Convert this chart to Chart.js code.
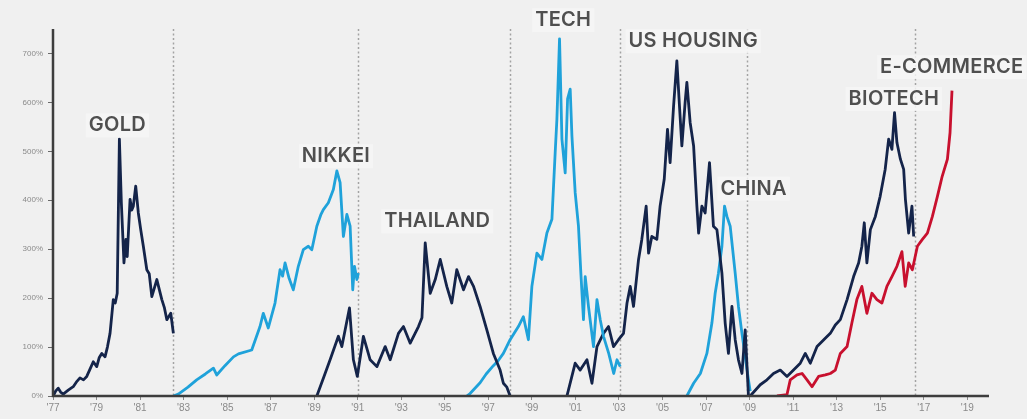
<!DOCTYPE html>
<html>
<head>
<meta charset="utf-8">
<script src="https://cdn.jsdelivr.net/npm/chart.js@4/dist/chart.umd.min.js"></script>
<style>
  html, body { margin: 0; padding: 0; background: #f0f0f0; }
  #wrap { width: 1027px; height: 419px; }
</style>
</head>
<body>
<div id="wrap"><canvas id="bubbles" width="1027" height="419"></canvas></div>
<script>
// Bubble peaks: % gain from trough, [year, percent]
const gold = [
  [1977.01, 0], [1977.12, 10], [1977.24, 16], [1977.35, 8], [1977.47, 4], [1977.7, 12],
  [1977.93, 19], [1978.1, 30], [1978.24, 37], [1978.4, 33], [1978.55, 40], [1978.7, 55],
  [1978.85, 70], [1979.01, 60], [1979.12, 78], [1979.24, 87], [1979.39, 80], [1979.5, 100],
  [1979.62, 128], [1979.77, 197], [1979.86, 190], [1979.95, 210], [1980.05, 525], [1980.14, 395],
  [1980.26, 272], [1980.35, 320], [1980.41, 285], [1980.54, 402], [1980.62, 380], [1980.69, 388],
  [1980.80, 429], [1980.92, 374], [1981.03, 340], [1981.15, 306], [1981.31, 258], [1981.42, 250],
  [1981.54, 203], [1981.77, 238], [1982.0, 197], [1982.12, 180], [1982.23, 156], [1982.41, 169],
  [1982.53, 128]
]
const nikkei = [
  [1982.53, 0], [1982.76, 4], [1983.2, 18], [1983.60, 33], [1984.0, 45], [1984.37, 57],
  [1984.52, 43], [1984.9, 62], [1985.29, 80], [1985.52, 86], [1986.13, 94], [1986.51, 142],
  [1986.66, 169], [1986.89, 139], [1987.20, 190], [1987.43, 258], [1987.55, 245], [1987.66, 272],
  [1987.85, 240], [1988.04, 217], [1988.27, 265], [1988.50, 299], [1988.73, 306], [1988.89, 299],
  [1989.12, 347], [1989.3, 370], [1989.42, 381], [1989.65, 395], [1989.88, 422], [1990.04, 460],
  [1990.19, 436], [1990.34, 326], [1990.50, 371], [1990.65, 347], [1990.77, 217], [1990.85, 265],
  [1990.96, 238], [1991.03, 251]
]
const thailand = [
  [1989.12, 0], [1989.45, 40], [1989.73, 74], [1990.11, 122], [1990.27, 101], [1990.62, 180],
  [1990.80, 74], [1990.98, 40], [1991.26, 122], [1991.57, 74], [1991.88, 60], [1992.26, 101],
  [1992.49, 74], [1992.87, 128], [1993.10, 142], [1993.41, 108], [1993.79, 142], [1993.95, 160],
  [1994.10, 313], [1994.33, 210], [1994.56, 238], [1994.79, 279], [1995.09, 224], [1995.32, 190],
  [1995.55, 258], [1995.86, 217], [1996.09, 244], [1996.32, 224], [1996.62, 183], [1996.93, 135],
  [1997.23, 87], [1997.54, 53], [1997.69, 26], [1997.85, 18], [1998.0, 0]
]
const tech = [
  [1996.01, 0], [1996.16, 5], [1996.62, 27], [1996.9, 45], [1997.23, 62], [1997.45, 72],
  [1997.69, 87], [1998.0, 115], [1998.38, 142], [1998.61, 162], [1998.84, 115], [1999.0, 224],
  [1999.23, 292], [1999.46, 279], [1999.69, 333], [1999.92, 361], [2000.07, 497], [2000.15, 566],
  [2000.27, 730], [2000.38, 525], [2000.53, 456], [2000.64, 607], [2000.76, 627], [2000.84, 531],
  [2000.99, 415], [2001.14, 347], [2001.25, 251], [2001.37, 156], [2001.45, 244], [2001.60, 183],
  [2001.83, 101], [2001.99, 197], [2002.14, 156], [2002.29, 122], [2002.53, 87], [2002.76, 46],
  [2002.91, 74], [2003.06, 60]
]
const usHousing = [
  [2000.61, 0], [2000.99, 67], [2001.22, 53], [2001.53, 74], [2001.76, 26], [2001.99, 101],
  [2002.29, 128], [2002.52, 142], [2002.75, 101], [2002.98, 115], [2003.21, 128], [2003.37, 190],
  [2003.52, 224], [2003.67, 183], [2003.90, 279], [2004.05, 320], [2004.25, 388], [2004.36, 292],
  [2004.51, 326], [2004.74, 320], [2004.89, 388], [2005.08, 443], [2005.23, 545], [2005.35, 477],
  [2005.51, 593], [2005.66, 685], [2005.78, 593], [2005.89, 511], [2006.04, 600], [2006.12, 641],
  [2006.27, 559], [2006.43, 511], [2006.58, 388], [2006.66, 333], [2006.81, 388], [2006.96, 374],
  [2007.16, 477], [2007.34, 347], [2007.50, 340], [2007.73, 251], [2007.88, 149], [2008.03, 87],
  [2008.19, 183], [2008.34, 115], [2008.49, 74], [2008.65, 46], [2008.80, 135], [2008.95, 0]
]
const china = [
  [2006.12, 0], [2006.43, 26], [2006.74, 46], [2007.04, 87], [2007.27, 149], [2007.42, 210],
  [2007.57, 251], [2007.73, 306], [2007.85, 388], [2007.96, 367], [2008.11, 347], [2008.34, 251],
  [2008.49, 183], [2008.65, 128], [2008.80, 80], [2008.95, 33], [2009.03, 10]
]
const biotech = [
  [2009.03, 0], [2009.49, 23], [2009.80, 33], [2010.10, 46], [2010.41, 53], [2010.72, 40],
  [2011.02, 53], [2011.33, 67], [2011.56, 87], [2011.79, 67], [2012.10, 101], [2012.41, 115],
  [2012.71, 128], [2012.94, 145], [2013.17, 156], [2013.48, 197], [2013.78, 244], [2014.01, 272],
  [2014.16, 306], [2014.27, 354], [2014.39, 272], [2014.55, 340], [2014.78, 367], [2015.0, 408],
  [2015.23, 463], [2015.39, 525], [2015.54, 504], [2015.66, 579], [2015.77, 518], [2015.93, 484],
  [2016.08, 463], [2016.16, 402], [2016.31, 333], [2016.46, 388], [2016.54, 326]
]
const eCommerce = [
  [2010.26, 0], [2010.72, 3], [2010.87, 33], [2011.18, 43], [2011.41, 46], [2011.64, 33],
  [2011.87, 19], [2012.17, 40], [2012.48, 43], [2012.71, 46], [2012.94, 53], [2013.17, 87],
  [2013.48, 101], [2013.70, 149], [2013.93, 197], [2014.16, 224], [2014.39, 169], [2014.62, 210],
  [2014.85, 197], [2015.08, 190], [2015.31, 224], [2015.54, 244], [2015.77, 265], [2016.0, 295],
  [2016.15, 224], [2016.31, 272], [2016.48, 258], [2016.71, 306], [2016.94, 320], [2017.17, 333],
  [2017.40, 367], [2017.63, 408], [2017.85, 449], [2018.09, 484], [2018.21, 538], [2018.30, 624]
]

// Ends of each episode (dotted markers)
const bubbleEnds = [1982.5, 1991.0, 1998.0, 2003.05, 2008.9, 2016.6]

const xTicks = [1977, 1979, 1981, 1983, 1985, 1987, 1989, 1991, 1993, 1995, 1997, 1999,
  2001, 2003, 2005, 2007, 2009, 2011, 2013, 2015, 2017, 2019]
const yTicks = [0, 100, 200, 300, 400, 500, 600, 700]

// Series names, anchored at [year, percent]
const seriesLabels = [
  ['GOLD', 1979.96, 553], ['NIKKEI', 1990.0, 490], ['THAILAND', 1994.65, 357],
  ['TECH', 2000.44, 768], ['US HOUSING', 2006.41, 725], ['CHINA', 2009.19, 424],
  ['BIOTECH', 2015.63, 607], ['E-COMMERCE', 2018.29, 672]
]

const NAVY = '#14244a'
const SKY = '#1fa2da'
const RED = '#c8102e'

const toXY = arr => arr.map(([x, y]) => ({ x, y }))
const series = [
  { label: 'Gold', data: gold, color: NAVY },
  { label: 'Nikkei', data: nikkei, color: SKY },
  { label: 'Thailand', data: thailand, color: NAVY },
  { label: 'Tech', data: tech, color: SKY },
  { label: 'US Housing', data: usHousing, color: NAVY },
  { label: 'China', data: china, color: SKY },
  { label: 'Biotech', data: biotech, color: NAVY },
  { label: 'E-Commerce', data: eCommerce, color: RED }
]

const datasets = series.map(s => ({
  label: s.label,
  data: toXY(s.data),
  borderColor: s.color,
  backgroundColor: s.color,
  borderWidth: 2.8,
  borderJoinStyle: 'round',
  pointRadius: 0,
  tension: 0,
  fill: false
}))

const dividers = {
  id: 'dividers',
  beforeDatasetsDraw (chart) {
    const { ctx, chartArea: { top, bottom }, scales: { x } } = chart
    ctx.save()
    ctx.strokeStyle = '#a3a3a3'
    ctx.lineWidth = 1.5
    ctx.setLineDash([2, 2.5])
    bubbleEnds.forEach(yr => {
      const px = Math.round(x.getPixelForValue(yr)) + 0.5
      ctx.beginPath()
      ctx.moveTo(px, top)
      ctx.lineTo(px, bottom)
      ctx.stroke()
    })
    ctx.restore()
  }
}

const axesAndLabels = {
  id: 'axesAndLabels',
  afterDatasetsDraw (chart) {
    const { ctx, chartArea: { left, right, top, bottom }, scales: { x, y } } = chart
    ctx.save()
    // axis lines
    ctx.strokeStyle = '#3d3d3d'
    ctx.lineWidth = 2.5
    ctx.beginPath()
    ctx.moveTo(left, top)
    ctx.lineTo(left, bottom)
    ctx.lineTo(right, bottom)
    ctx.stroke()

    // series names
    ctx.font = '600 20px Inter, "Open Sans", sans-serif'
    ctx.letterSpacing = '0.3px'
    ctx.textAlign = 'center'
    ctx.textBaseline = 'middle'
    seriesLabels.forEach(([text, yr, val]) => {
      const px = x.getPixelForValue(yr)
      const py = y.getPixelForValue(val)
      const w = ctx.measureText(text).width
      ctx.fillStyle = 'rgba(246,246,246,0.85)'
      ctx.fillRect(px - w / 2 - 3, py - 12, w + 6, 24)
      ctx.fillStyle = '#4f4f4f'
      ctx.fillText(text, px, py)
    })
    ctx.restore()
  }
}

new Chart(document.getElementById('bubbles'), {
  type: 'line',
  data: { datasets },
  options: {
    responsive: false,
    animation: false,
    devicePixelRatio: 1,
    layout: { padding: { top: 29, right: 38, left: 0, bottom: 0 } },
    plugins: { legend: { display: false }, tooltip: { enabled: false } },
    scales: {
      x: {
        type: 'linear',
        min: 1977,
        max: 2020,
        afterBuildTicks: axis => { axis.ticks = xTicks.map(v => ({ value: v })) },
        afterFit: axis => { axis.height = 23 },
        border: { display: false },
        grid: { drawOnChartArea: false, drawTicks: true, tickLength: 4, color: '#8a8a8a' },
        ticks: {
          autoSkip: false,
          maxRotation: 0,
          padding: 2,
          color: '#8a8a8a',
          font: { size: 10, family: 'Arial, "Liberation Sans", sans-serif' },
          callback: v => "'" + String(v).slice(2)
        }
      },
      y: {
        min: 0,
        max: 750,
        afterBuildTicks: axis => { axis.ticks = yTicks.map(v => ({ value: v })) },
        afterFit: axis => { axis.width = 53 },
        border: { display: false },
        grid: { drawOnChartArea: false, drawTicks: true, tickLength: 5, color: '#6a6a6a' },
        ticks: {
          padding: 5,
          color: '#8a8a8a',
          font: { size: 8, family: 'Arial, "Liberation Sans", sans-serif' },
          callback: v => v + '%'
        }
      }
    }
  },
  plugins: [dividers, axesAndLabels]
})
</script>
</body>
</html>
